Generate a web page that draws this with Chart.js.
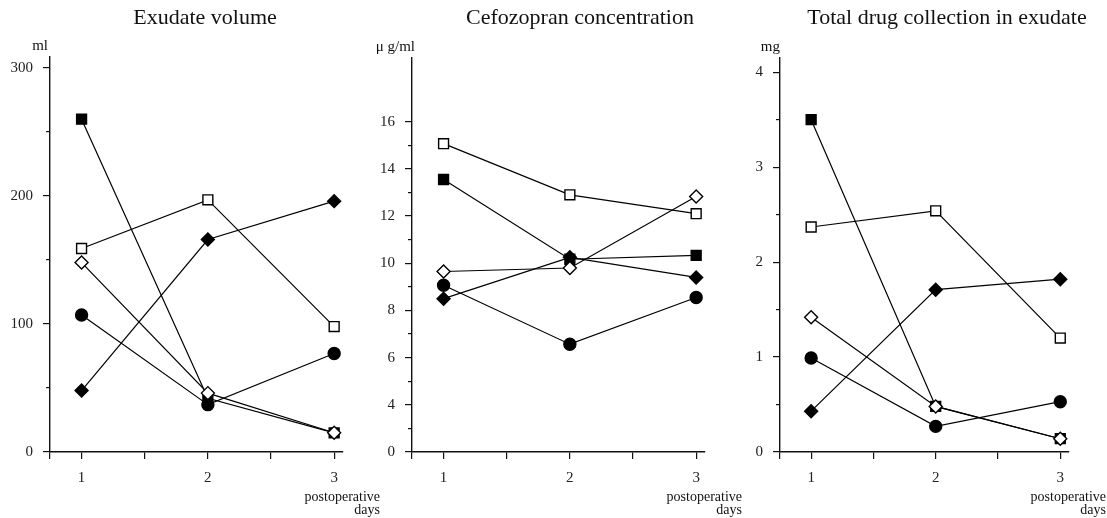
<!DOCTYPE html>
<html>
<head>
<meta charset="utf-8">
<title>Exudate volume / Cefozopran concentration / Total drug collection</title>
<script src="https://cdn.jsdelivr.net/npm/chart.js@4.4.1/dist/chart.umd.min.js"></script>
<style>
  html, body { margin: 0; padding: 0; background: #fff; width: 1107px; height: 518px; overflow: hidden; }
  canvas { position: absolute; top: 0; }
</style>
</head>
<body>
<canvas id="volumeChart" width="400" height="518" style="left:0px"></canvas>
<canvas id="concChart" width="398" height="518" style="left:362px"></canvas>
<canvas id="totalChart" width="357" height="518" style="left:750px"></canvas>
<script>
const days = [1, 2, 3];
const dayTicks = [1, 1.5, 2, 2.5, 3];
const dayLabels = ['1', '2', '3'];

// Exudate volume (ml)
const volumeFilledSquare = [260, 42, 15];
const volumeOpenSquare = [159, 197, 98];
const volumeOpenDiamond = [148, 46, 15];
const volumeFilledCircle = [107, 37, 77];
const volumeFilledDiamond = [48, 166, 196];
const volumeTicks = [0, 100, 200, 300];
const volumeTickLabels = ['0', '100', '200', '300'];
const volumeMinorTicks = [50, 150, 250];

// Cefozopran concentration (µg/ml); the axis is broken, "0" sits on the 2 mark
const concFilledSquare = [13.55, 10.17, 10.33];
const concOpenSquare = [15.07, 12.9, 12.1];
const concOpenDiamond = [9.65, 9.8, 12.83];
const concFilledCircle = [9.07, 6.57, 8.55];
const concFilledDiamond = [8.5, 10.25, 9.4];
const concTicks = [2, 4, 6, 8, 10, 12, 14, 16];
const concTickLabels = ['0', '4', '6', '8', '10', '12', '14', '16'];
const concMinorTicks = [3, 5, 7, 9, 11, 13, 15];

// Total drug collection in exudate (mg)
const totalFilledSquare = [3.5, 0.48, 0.14];
const totalOpenSquare = [2.37, 2.54, 1.2];
const totalOpenDiamond = [1.42, 0.48, 0.14];
const totalFilledCircle = [0.99, 0.27, 0.53];
const totalFilledDiamond = [0.43, 1.71, 1.82];
const totalTicks = [0, 1, 2, 3, 4];
const totalTickLabels = ['0', '1', '2', '3', '4'];
const totalMinorTicks = [0.5, 1.5, 2.5, 3.5];

const serif = '"Liberation Serif", "Times New Roman", serif';

// marker looks, lower order is drawn on top
const markers = {
  filledSquare: { style: 'rect', radius: 7, fill: '#000', order: 4 },
  filledCircle: { style: 'circle', radius: 6, fill: '#000', order: 3 },
  filledDiamond: { style: 'rectRot', radius: 6.5, fill: '#000', order: 2 },
  openSquare: { style: 'rect', radius: 7, fill: '#fff', order: 1 },
  openDiamond: { style: 'rectRot', radius: 6.5, fill: '#fff', order: 0 }
};

function series(values, m) {
  return {
    data: values.map((v, i) => ({ x: days[i], y: v })),
    pointStyle: m.style,
    pointRadius: m.radius,
    pointBackgroundColor: m.fill,
    pointBorderColor: '#000',
    pointBorderWidth: 1.4,
    borderColor: '#000',
    borderWidth: 1.2,
    order: m.order,
    clip: false
  };
}

const panelText = {
  id: 'panelText',
  afterDraw(chart, args, o) {
    const { ctx, chartArea } = chart;
    ctx.save();
    ctx.fillStyle = '#111';
    ctx.textBaseline = 'middle';
    ctx.textAlign = 'center';
    ctx.font = '22px ' + serif;
    ctx.fillText(o.title, o.titleX, 18);
    ctx.textAlign = 'right';
    ctx.font = '15px ' + serif;
    ctx.fillText(o.unit, chartArea.left + o.unitDx, chartArea.top - 11);
    ctx.font = '14px ' + serif;
    ctx.fillText('postoperative', chartArea.right + 37, 497);
    ctx.fillText('days', chartArea.right + 37, 510);
    ctx.restore();
  }
};

function drawPanel(id, p) {
  const canvas = document.getElementById(id);
  const left = parseInt(canvas.style.left, 10);
  const tickFont = { family: serif, size: 15 };
  new Chart(canvas, {
    type: 'line',
    data: { datasets: p.series.map(s => series(s[0], s[1])) },
    options: {
      responsive: false,
      animation: false,
      events: [],
      layout: {
        autoPadding: false,
        padding: { top: p.top, right: left + canvas.width - p.areaRight, bottom: 0, left: 0 }
      },
      scales: {
        x: {
          type: 'linear',
          min: 0.75,
          max: 3.07,
          afterBuildTicks: s => { s.ticks = [0.75, ...dayTicks].map(v => ({ value: v })); },
          afterFit: s => { s.height = 66; },
          border: { display: true, color: '#111', width: 1.4 },
          grid: { drawOnChartArea: false, drawTicks: true, tickLength: 7, color: '#111', lineWidth: 1.2 },
          ticks: {
            autoSkip: false, maxRotation: 0, padding: 10, color: '#222', font: tickFont,
            callback: v => dayLabels[days.indexOf(v)] ?? ''
          }
        },
        y: {
          weight: 1,
          min: p.min,
          max: p.max,
          afterBuildTicks: s => { s.ticks = p.ticks.map(v => ({ value: v })); },
          afterFit: s => { s.width = p.axisX - left; },
          border: { display: true, color: '#111', width: 1.4 },
          grid: { drawOnChartArea: false, drawTicks: true, tickLength: 7, color: '#111', lineWidth: 1.2 },
          ticks: {
            autoSkip: false, padding: 10, color: '#222', font: tickFont,
            callback: (v, i) => p.labels[i]
          }
        },
        yMinor: {
          position: 'left',
          weight: -1,
          min: p.min,
          max: p.max,
          afterBuildTicks: s => { s.ticks = p.minor.map(v => ({ value: v })); },
          afterFit: s => { s.width = 0; },
          border: { display: false },
          grid: { drawOnChartArea: false, drawTicks: true, tickLength: 4, color: '#111', lineWidth: 1.2 },
          ticks: { display: false }
        }
      },
      plugins: {
        legend: { display: false },
        tooltip: { enabled: false },
        panelText: { title: p.title, titleX: p.titleX - left, unit: p.unit, unitDx: p.unitDx }
      }
    },
    plugins: [panelText]
  });
}

drawPanel('volumeChart', {
  title: 'Exudate volume', titleX: 205, unit: 'ml', unitDx: -2,
  axisX: 50, areaRight: 343, top: 57,
  min: 0, max: 308.6, ticks: volumeTicks, labels: volumeTickLabels, minor: volumeMinorTicks,
  series: [
    [volumeFilledSquare, markers.filledSquare],
    [volumeOpenSquare, markers.openSquare],
    [volumeOpenDiamond, markers.openDiamond],
    [volumeFilledCircle, markers.filledCircle],
    [volumeFilledDiamond, markers.filledDiamond]
  ]
});

drawPanel('concChart', {
  title: 'Cefozopran concentration', titleX: 580, unit: 'μ g/ml', unitDx: 3,
  axisX: 412, areaRight: 705, top: 58,
  min: 2, max: 18.7, ticks: concTicks, labels: concTickLabels, minor: concMinorTicks,
  series: [
    [concFilledSquare, markers.filledSquare],
    [concOpenSquare, markers.openSquare],
    [concOpenDiamond, markers.openDiamond],
    [concFilledCircle, markers.filledCircle],
    [concFilledDiamond, markers.filledDiamond]
  ]
});

drawPanel('totalChart', {
  title: 'Total drug collection in exudate', titleX: 947, unit: 'mg', unitDx: 0,
  axisX: 780, areaRight: 1069, top: 58,
  min: 0, max: 4.15, ticks: totalTicks, labels: totalTickLabels, minor: totalMinorTicks,
  series: [
    [totalFilledSquare, markers.filledSquare],
    [totalOpenSquare, markers.openSquare],
    [totalOpenDiamond, markers.openDiamond],
    [totalFilledCircle, markers.filledCircle],
    [totalFilledDiamond, markers.filledDiamond]
  ]
});
</script>
</body>
</html>
